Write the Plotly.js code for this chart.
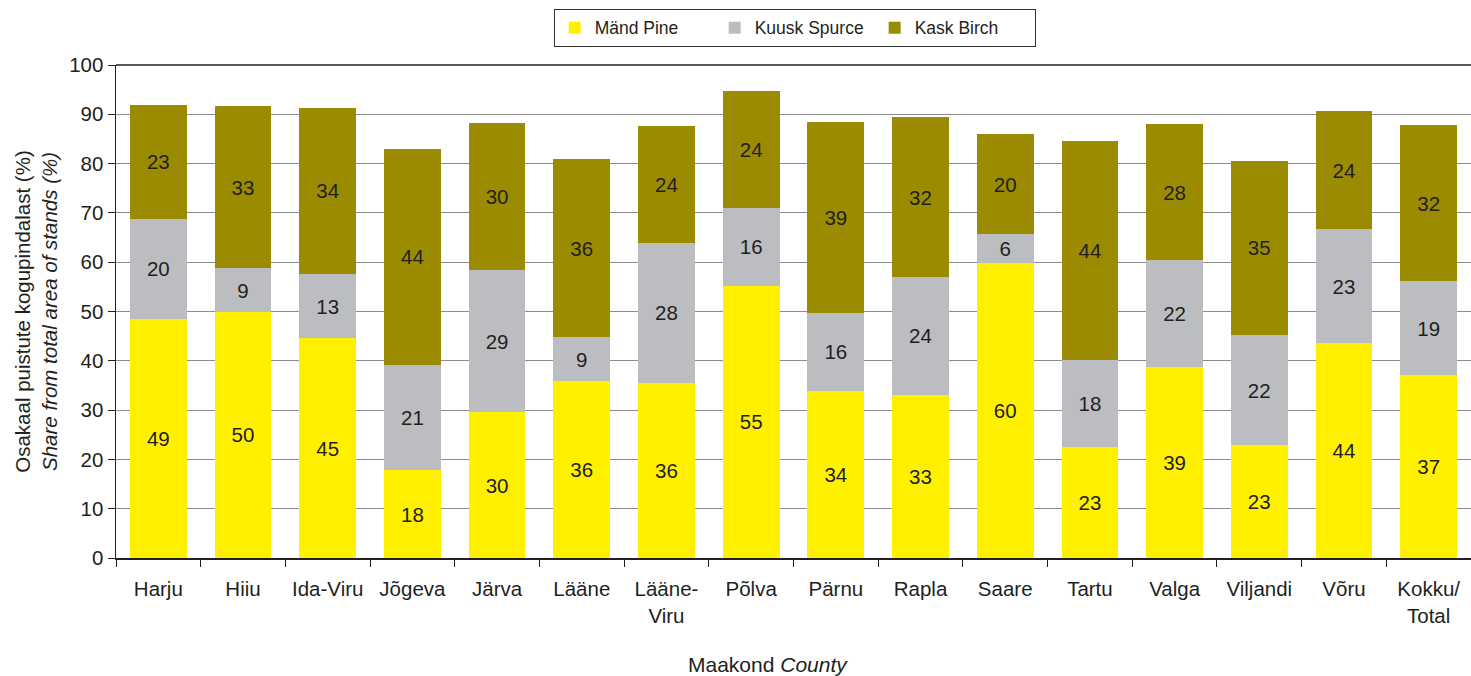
<!DOCTYPE html>
<html>
<head>
<meta charset="utf-8">
<script src="https://cdn.plot.ly/plotly-3.0.1.min.js"></script>
<style>html,body{margin:0;padding:0;background:#fff;}#chart{width:1471px;height:676px;}</style>
</head>
<body>
<div id="chart"></div>
<script>
const counties = ["Harju","Hiiu","Ida-Viru","Jõgeva","Järva","Lääne","Lääne-<br>Viru","Põlva","Pärnu","Rapla","Saare","Tartu","Valga","Viljandi","Võru","Kokku/<br>Total"];
const pine   = [48.5, 49.9, 44.6, 17.8, 29.6, 35.9, 35.5, 55.2, 33.9, 33.1, 59.8, 22.5, 38.7, 22.9, 43.6, 37.1];
const spruce = [20.3,  8.9, 13.0, 21.4, 28.8,  8.9, 28.4, 15.8, 15.8, 23.9,  5.9, 17.7, 21.7, 22.3, 23.1, 19.1];
const birch  = [23.1, 32.9, 33.7, 43.8, 29.8, 36.1, 23.7, 23.7, 38.7, 32.4, 20.3, 44.4, 27.6, 35.4, 24.0, 31.6];
const seriesNames = ["Mänd Pine", "Kuusk Spurce", "Kask Birch"];
const yTicks = [0,10,20,30,40,50,60,70,80,90,100];

const font = "Liberation Sans, Arial, sans-serif";
const txt = "#231f20";
const colors = ["#fff000", "#bcbdc1", "#9a8b00"];
const vals = [pine, spruce, birch];

const traces = vals.map((v, i) => ({
  type: "bar",
  name: seriesNames[i],
  x: counties,
  y: v,
  marker: {color: colors[i], line: {width: 0}},
  texttemplate: "%{y:.0f}",
  textposition: "inside",
  insidetextanchor: "middle",
  constraintext: "none",
  textfont: {family: font, size: 20.5, color: txt},
  hoverinfo: "skip"
}));

const layout = {
  width: 1471, height: 676,
  margin: {l: 116, r: 0, t: 65, b: 118},
  barmode: "stack",
  bargap: 0.33,
  paper_bgcolor: "#fff",
  plot_bgcolor: "#fff",
  font: {family: font, size: 20, color: txt},
  showlegend: true,
  legend: {
    orientation: "h",
    x: 0.323, xanchor: "left",
    y: 0.987, yref: "container", yanchor: "top",
    bordercolor: "#333", borderwidth: 1,
    font: {family: font, size: 17.5, color: txt},
    traceorder: "normal",
    entrywidth: 115, entrywidthmode: "pixels"
  },
  xaxis: {
    type: "category",
    showline: true, linecolor: "#231f20", linewidth: 1.5,
    ticks: "outside", tickson: "boundaries", ticklen: 7, tickcolor: "#231f20",
    tickfont: {family: font, size: 20.5, color: txt},
    ticklabelstandoff: 12,
    showgrid: false,
    automargin: false
  },
  yaxis: {
    range: [0, 100],
    tickvals: yTicks,
    showline: true, linecolor: "#231f20", linewidth: 1.5,
    ticks: "outside", ticklen: 7, tickcolor: "#231f20",
    tickfont: {family: font, size: 20.5, color: txt},
    showgrid: true, gridcolor: "#8c8c8c", gridwidth: 1,
    zeroline: false,
    title: {text: "Osakaal puistute kogupindalast (%)<br><i>Share from total area of stands (%)</i>", font: {family: font, size: 20.5, color: txt}, standoff: 6},
    automargin: false
  },
  shapes: [{type: "line", xref: "paper", yref: "paper", x0: 0, x1: 1, y0: 1, y1: 1, line: {color: "#231f20", width: 1.5}}],
  annotations: [{
    text: "Maakond <i>County</i>",
    xref: "paper", yref: "paper", x: 0.481, y: -0.188, yanchor: "top", xanchor: "center",
    showarrow: false, font: {family: font, size: 21, color: txt}
  }]
};

Plotly.newPlot("chart", traces, layout, {displayModeBar: false, staticPlot: true});
</script>
</body>
</html>
